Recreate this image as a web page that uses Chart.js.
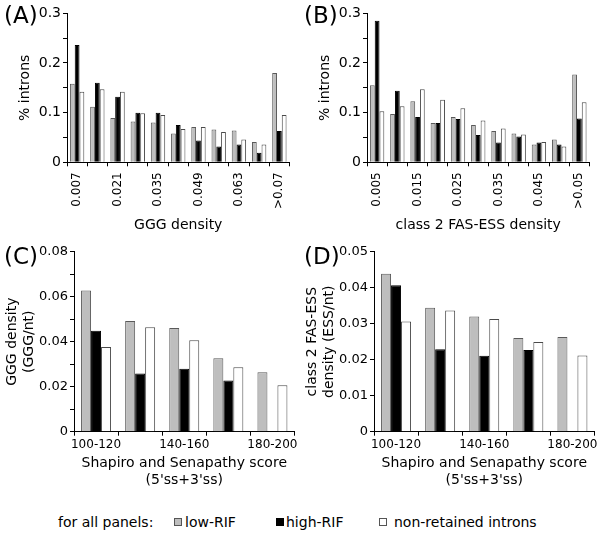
<!DOCTYPE html>
<html>
<head>
<meta charset="utf-8">
<script src="https://cdn.jsdelivr.net/npm/chart.js@4.4.1/dist/chart.umd.min.js"></script>
<style>
  body { margin: 0; background: #fff; font-family: 'DejaVu Sans', sans-serif; color: #000; }
  #wrap { position: relative; width: 600px; height: 541px; overflow: hidden; }
  canvas { position: absolute; }
  .tag { position: absolute; font-size: 23px; line-height: 28px; }
  .leg { position: absolute; top: 514px; font-size: 14px; line-height: 16px; white-space: nowrap; }
  .sw { position: absolute; top: 518px; width: 6px; height: 6px; border: 1px solid #555; }
</style>
</head>
<body>
<div id="wrap">
  <canvas id="panelA" width="300" height="238" style="left:0;top:0"></canvas>
  <canvas id="panelB" width="300" height="238" style="left:300px;top:0"></canvas>
  <canvas id="panelC" width="300" height="253" style="left:0;top:240px"></canvas>
  <canvas id="panelD" width="300" height="253" style="left:300px;top:240px"></canvas>

  <div class="tag" style="left:4px;top:1px">(A)</div>
  <div class="tag" style="left:304px;top:1px">(B)</div>
  <div class="tag" style="left:4px;top:242px">(C)</div>
  <div class="tag" style="left:304px;top:242px">(D)</div>

  <div class="leg" style="left:58px">for all panels:</div>
  <div class="sw" style="left:174px;background:#bebebe"></div>
  <div class="leg" style="left:185px">low-RIF</div>
  <div class="sw" style="left:276px;background:#000;border-color:#000"></div>
  <div class="leg" style="left:286px">high-RIF</div>
  <div class="sw" style="left:379px;background:#fff"></div>
  <div class="leg" style="left:394px">non-retained introns</div>
</div>
<script>
// (A) GGG density histogram
var gggBins = ['0.007', '0.014', '0.021', '0.028', '0.035', '0.042', '0.049', '0.056', '0.063', '0.07', '>0.07'];
var gggBinLow  = [0.158, 0.112, 0.089, 0.082, 0.080, 0.058, 0.071, 0.066, 0.064, 0.041, 0.180];
var gggBinHigh = [0.236, 0.160, 0.132, 0.100, 0.100, 0.075, 0.044, 0.032, 0.036, 0.019, 0.063];
var gggBinNon  = [0.142, 0.147, 0.142, 0.099, 0.095, 0.067, 0.071, 0.061, 0.046, 0.036, 0.095];

// (B) class 2 FAS-ESS density histogram
var essBins = ['0.005', '0.01', '0.015', '0.02', '0.025', '0.03', '0.035', '0.04', '0.045', '0.05', '>0.05'];
var essBinLow  = [0.155, 0.097, 0.123, 0.079, 0.091, 0.075, 0.063, 0.058, 0.036, 0.046, 0.177];
var essBinHigh = [0.285, 0.144, 0.091, 0.079, 0.087, 0.055, 0.040, 0.052, 0.040, 0.036, 0.088];
var essBinNon  = [0.103, 0.113, 0.147, 0.126, 0.109, 0.084, 0.068, 0.056, 0.041, 0.032, 0.121];

// (C) and (D) by splice site score
var scoreBins = ['100-120', '120-140', '140-160', '160-180', '180-200'];
var gggLow  = [0.0628, 0.0492, 0.0461, 0.0326, 0.0264];
var gggHigh = [0.0449, 0.0259, 0.0280, 0.0228, null];
var gggNon  = [0.0376, 0.0464, 0.0406, 0.0286, 0.0206];
var essLow  = [0.0439, 0.0344, 0.0320, 0.0260, 0.0263];
var essHigh = [0.0407, 0.0229, 0.0211, 0.0227, null];
var essNon  = [0.0306, 0.0337, 0.0313, 0.0249, 0.0212];

Chart.defaults.font.family = "'DejaVu Sans', sans-serif";
Chart.defaults.color = '#000';

function fmtEvery(n) {
  // label only every n-th thousandth step
  return function (v) {
    var r = Math.round(v * 1000);
    if (r % n !== 0) return '';
    return r === 0 ? '0' : String(r / 1000);
  };
}

function panel(id, c) {
  new Chart(document.getElementById(id), {
    type: 'bar',
    data: {
      labels: c.labels,
      datasets: [
        { label: 'low-RIF', data: c.low, backgroundColor: '#bebebe', borderColor: '#5a5a5a', borderWidth: 1 },
        { label: 'high-RIF', data: c.high, backgroundColor: '#000', borderColor: '#000', borderWidth: 1 },
        { label: 'non-retained introns', data: c.non, backgroundColor: '#fff', borderColor: '#4a4a4a', borderWidth: 1 }
      ]
    },
    options: {
      responsive: false,
      animation: false,
      devicePixelRatio: 1,
      layout: { padding: { left: 0, right: 5, top: c.padTop, bottom: 0 } },
      datasets: { bar: { categoryPercentage: c.catPct, barPercentage: 1 } },
      plugins: { legend: { display: false }, tooltip: { enabled: false } },
      scales: {
        x: {
          grid: { drawOnChartArea: false, tickLength: 4, color: '#000', offset: true },
          border: { color: '#000' },
          ticks: {
            autoSkip: false, minRotation: c.rot, maxRotation: c.rot, padding: c.xPad,
            font: { size: 12 },
            callback: function (v, i) { return i % 2 === 0 ? this.getLabelForValue(v) : ''; }
          },
          title: { display: true, text: c.xTitle, font: { size: 14 }, padding: { top: 4, bottom: 4 } },
          afterFit: function (s) { s.height = c.xH; }
        },
        y: {
          min: 0, max: c.yMax,
          grid: { drawOnChartArea: false, tickLength: 4, color: '#000' },
          border: { color: '#000' },
          ticks: { stepSize: c.step, padding: 2, font: { size: c.yFont }, callback: c.yFmt },
          title: { display: true, text: c.yTitle, font: { size: 14 }, padding: { top: c.yTitlePad, bottom: 0 } },
          afterFit: function (s) { s.width = c.yW; }
        }
      }
    }
  });
}

panel('panelA', {
  labels: gggBins, low: gggBinLow, high: gggBinHigh, non: gggBinNon,
  padTop: 13.3, xH: 75.7, yW: 67, catPct: 0.71, rot: 90, xPad: 6,
  yMax: 0.3, step: 0.05, yFmt: fmtEvery(100), yFont: 14, yTitlePad: 16.6,
  xTitle: 'GGG density', yTitle: '% introns'
});
panel('panelB', {
  labels: essBins, low: essBinLow, high: essBinHigh, non: essBinNon,
  padTop: 13.3, xH: 75.7, yW: 67, catPct: 0.71, rot: 90, xPad: 6,
  yMax: 0.3, step: 0.05, yFmt: fmtEvery(100), yFont: 14, yTitlePad: 16.6,
  xTitle: 'class 2 FAS-ESS density', yTitle: '% introns'
});
panel('panelC', {
  labels: scoreBins, low: gggLow, high: gggHigh, non: gggNon,
  padTop: 11.7, xH: 61.3, yW: 74, catPct: 0.68, rot: 0, xPad: 2,
  yMax: 0.08, step: 0.01, yFmt: fmtEvery(20), yFont: 13, yTitlePad: 4,
  xTitle: ['Shapiro and Senapathy score', "(5'ss+3'ss)"], yTitle: ['GGG density', '(GGG/nt)']
});
panel('panelD', {
  labels: scoreBins, low: essLow, high: essHigh, non: essNon,
  padTop: 11.7, xH: 61.3, yW: 74, catPct: 0.68, rot: 0, xPad: 2,
  yMax: 0.05, step: 0.01, yFmt: fmtEvery(10), yFont: 13, yTitlePad: 4,
  xTitle: ['Shapiro and Senapathy score', "(5'ss+3'ss)"], yTitle: ['class 2 FAS-ESS', 'density (ESS/nt)']
});
</script>
</body>
</html>
